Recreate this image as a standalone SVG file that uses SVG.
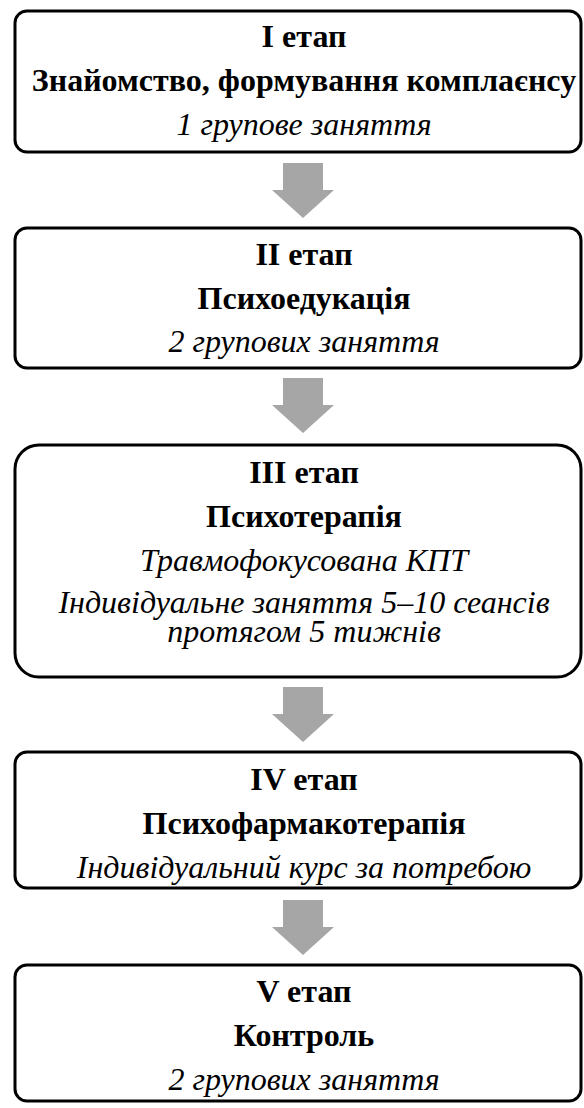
<svg xmlns="http://www.w3.org/2000/svg" width="584" height="1108" viewBox="0 0 584 1108">
<defs>
<polygon id="arr" points="-20,0 20,0 20,27 31,27 0,55 -31,27 -20,27" fill="#a6a6a6"/>
</defs>
<rect width="584" height="1108" fill="#fff"/>
<g id="connectors">
<use href="#arr" x="303" y="163"/>
<use href="#arr" x="303" y="378"/>
<use href="#arr" x="303" y="687"/>
<use href="#arr" x="303" y="900"/>
</g>
<g id="stage1">
<rect fill="#fff" stroke="#000" stroke-width="3" x="15" y="11" width="566" height="141" rx="12"/>
<text font-family="Times New Roman" font-size="32" font-weight="bold" text-anchor="middle" x="304" y="47">I етап</text>
<text font-family="Times New Roman" font-size="32" font-weight="bold" text-anchor="middle" x="304" y="91">Знайомство, формування комплаєнсу</text>
<text font-family="Times New Roman" font-size="32" font-style="italic" text-anchor="middle" x="304" y="135">1 групове заняття</text>
</g>
<g id="stage2">
<rect fill="#fff" stroke="#000" stroke-width="3" x="15" y="228" width="566" height="140" rx="12"/>
<text font-family="Times New Roman" font-size="32" font-weight="bold" text-anchor="middle" x="304" y="265">II етап</text>
<text font-family="Times New Roman" font-size="32" font-weight="bold" text-anchor="middle" x="304" y="309">Психоедукація</text>
<text font-family="Times New Roman" font-size="32" font-style="italic" text-anchor="middle" x="304" y="352">2 групових заняття</text>
</g>
<g id="stage3">
<rect fill="#fff" stroke="#000" stroke-width="3" x="15" y="445" width="566" height="232" rx="24"/>
<text font-family="Times New Roman" font-size="32" font-weight="bold" text-anchor="middle" x="304" y="483">III етап</text>
<text font-family="Times New Roman" font-size="32" font-weight="bold" text-anchor="middle" x="304" y="527">Психотерапія</text>
<text font-family="Times New Roman" font-size="32" font-style="italic" text-anchor="middle" x="304" y="571">Травмофокусована КПТ</text>
<text font-family="Times New Roman" font-size="32" font-style="italic" text-anchor="middle" x="304" y="613">Індивідуальне заняття 5–10 сеансів</text>
<text font-family="Times New Roman" font-size="32" font-style="italic" text-anchor="middle" x="304" y="642">протягом 5 тижнів</text>
</g>
<g id="stage4">
<rect fill="#fff" stroke="#000" stroke-width="3" x="15" y="752" width="566" height="136" rx="12"/>
<text font-family="Times New Roman" font-size="32" font-weight="bold" text-anchor="middle" x="304" y="790">IV етап</text>
<text font-family="Times New Roman" font-size="32" font-weight="bold" text-anchor="middle" x="304" y="834">Психофармакотерапія</text>
<text font-family="Times New Roman" font-size="32" font-style="italic" text-anchor="middle" x="304" y="878">Індивідуальний курс за потребою</text>
</g>
<g id="stage5">
<rect fill="#fff" stroke="#000" stroke-width="3" x="15" y="965" width="566" height="136" rx="12"/>
<text font-family="Times New Roman" font-size="32" font-weight="bold" text-anchor="middle" x="304" y="1002">V етап</text>
<text font-family="Times New Roman" font-size="32" font-weight="bold" text-anchor="middle" x="304" y="1046">Контроль</text>
<text font-family="Times New Roman" font-size="32" font-style="italic" text-anchor="middle" x="304" y="1090">2 групових заняття</text>
</g>
</svg>
